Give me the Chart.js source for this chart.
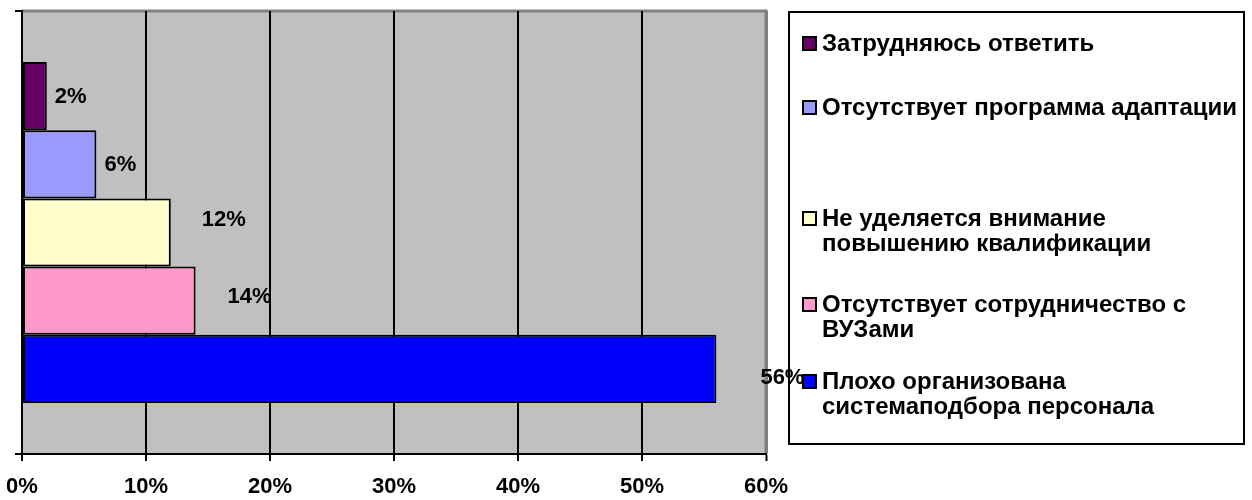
<!DOCTYPE html>
<html>
<head>
<meta charset="utf-8">
<script src="https://cdn.jsdelivr.net/npm/chart.js@4"></script>
<style>
  html, body { margin: 0; padding: 0; background: #fff; }
  #wrap { width: 1252px; height: 500px; position: relative; }
</style>
</head>
<body>
<div id="wrap"><canvas id="c" width="1252" height="500"></canvas></div>
<script>
// ---- data ----
const categories = [''];
const seriesNames = [
  ['Затрудняюсь ответить'],
  ['Отсутствует программа адаптации'],
  ['Не уделяется внимание', 'повышению квалификации'],
  ['Отсутствует сотрудничество с', 'ВУЗами'],
  ['Плохо организована', 'системаподбора персонала']
];
const seriesValues = [2, 6, 12, 14, 56];
const seriesColors = ['#660066', '#9999FF', '#FFFFCC', '#FF99CC', '#0000FF'];
const xTicks = [0, 10, 20, 30, 40, 50, 60];

// ---- style / layout (not data) ----
const FAMILY = '"Liberation Sans", Arial, sans-serif';
const LABEL_FONT = 'bold 22px ' + FAMILY;
const LEGEND_FONT = 'bold 24px ' + FAMILY;
const labelOffsets = [[8, 1], [8, 1], [31, -13], [32, -4], [44, 9]];
const legendItemY = [44, 108, 219, 305, 382];
const LEGEND_BOX = [789, 12, 455, 432];

const bgPlugin = {
  id: 'plotBg',
  beforeDraw(chart) {
    const { ctx, chartArea: a } = chart;
    ctx.save();
    ctx.fillStyle = '#C0C0C0';
    ctx.fillRect(a.left, a.top, a.right - a.left, a.bottom - a.top);
    ctx.strokeStyle = '#808080';
    ctx.lineWidth = 3;
    ctx.beginPath();
    ctx.moveTo(a.left, a.top);
    ctx.lineTo(a.right, a.top);
    ctx.lineTo(a.right, a.bottom);
    ctx.stroke();
    ctx.restore();
  }
};

const overlayPlugin = {
  id: 'legendAndLabels',
  afterDraw(chart) {
    const { ctx } = chart;
    const [bx, by, bw, bh] = LEGEND_BOX;
    ctx.save();
    // legend box
    ctx.fillStyle = '#fff';
    ctx.fillRect(bx, by, bw, bh);
    ctx.font = LEGEND_FONT;
    ctx.textAlign = 'left';
    ctx.textBaseline = 'middle';
    chart.data.datasets.forEach((ds, i) => {
      const y = legendItemY[i];
      ctx.fillStyle = ds.backgroundColor;
      ctx.fillRect(803, y - 7, 13, 13);
      ctx.lineWidth = 2;
      ctx.strokeStyle = '#000';
      ctx.strokeRect(803, y - 7, 13, 13);
      ctx.fillStyle = '#000';
      ds.label.forEach((line, k) => {
        ctx.fillText(line, 822, y + k * 25);
      });
    });
    // value labels
    ctx.font = LABEL_FONT;
    ctx.fillStyle = '#000';
    chart.data.datasets.forEach((ds, i) => {
      const el = chart.getDatasetMeta(i).data[0];
      const off = labelOffsets[i];
      ctx.fillText(ds.data[0] + '%', el.x + off[0], el.y + off[1]);
    });
    ctx.strokeStyle = '#000';
    ctx.lineWidth = 2;
    ctx.strokeRect(bx, by, bw, bh);
    ctx.restore();
  }
};

new Chart(document.getElementById('c'), {
  type: 'bar',
  data: {
    labels: categories,
    datasets: seriesValues.map((v, i) => ({
      label: seriesNames[i],
      data: [v],
      backgroundColor: seriesColors[i],
      borderColor: '#000',
      borderWidth: 2,
      borderSkipped: false,
      categoryPercentage: 0.77,
      barPercentage: 1
    }))
  },
  options: {
    indexAxis: 'y',
    responsive: false,
    animation: false,
    layout: { padding: { top: 11, right: 486, left: 0, bottom: 0 } },
    plugins: { legend: { display: false }, tooltip: { enabled: false } },
    scales: {
      x: {
        min: 0, max: 60,
        afterBuildTicks(s) { s.ticks = xTicks.map(v => ({ value: v })); },
        afterFit(s) { s.height = 46; s.paddingLeft = 0; s.paddingRight = 0; },
        ticks: {
          callback: v => v + '%',
          color: '#000',
          font: { family: FAMILY, size: 22, weight: 'bold' },
          padding: 13,
          maxRotation: 0
        },
        grid: {
          color: ctx => (ctx.tick && ctx.tick.value === 60) ? '#808080' : '#000',
          lineWidth: ctx => (ctx.tick && ctx.tick.value === 60) ? 3 : 2,
          tickColor: '#000',
          tickWidth: 2,
          tickLength: 7
        },
        border: { display: true, color: '#000', width: 2 }
      },
      y: {
        afterFit(s) { s.width = 22; },
        ticks: { display: false },
        grid: {
          offset: true,
          drawOnChartArea: false,
          color: '#000',
          lineWidth: 2,
          tickLength: 7
        },
        border: { display: true, color: '#000', width: 2 }
      }
    }
  },
  plugins: [bgPlugin, overlayPlugin]
});
</script>
</body>
</html>
